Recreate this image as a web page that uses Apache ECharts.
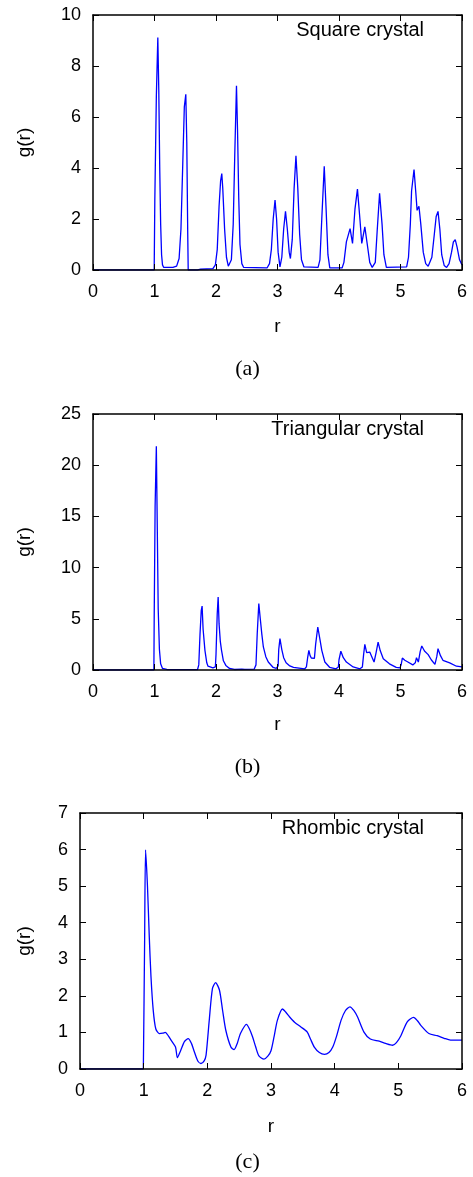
<!DOCTYPE html>
<html>
<head>
<meta charset="utf-8">
<title>g(r) for three crystals</title>
<script src="https://cdn.jsdelivr.net/npm/echarts@6/dist/echarts.min.js"></script>
<style>
  html, body { margin: 0; padding: 0; background: #fff; }
  #chart { width: 473px; height: 1177px; }
</style>
</head>
<body>
<div id="chart"></div>
<script>
// --- values, [r, g(r)] ---
const squareData = [
  [0, 0], [0.995, 0], [1.0, 0], [1.005, 2.7], [1.03, 6.8], [1.054, 9.12], [1.07, 7.0], [1.085, 4.0],
  [1.1, 1.8], [1.115, 0.6], [1.13, 0.2], [1.15, 0.1], [1.3, 0.1], [1.36, 0.15], [1.4, 0.45],
  [1.43, 1.6], [1.46, 4.2], [1.485, 6.4], [1.509, 6.89], [1.525, 5.0], [1.54, 1.5], [1.548, 0],
  [1.7, 0], [1.75, 0.03], [1.95, 0.05], [1.99, 0.2], [2.02, 0.8], [2.05, 2.5], [2.075, 3.5],
  [2.094, 3.78], [2.11, 3.2], [2.14, 1.6], [2.17, 0.5], [2.2, 0.15], [2.22, 0.12], [2.25, 0.4],
  [2.28, 1.8], [2.305, 4.5], [2.333, 7.22], [2.35, 5.5], [2.37, 2.8], [2.39, 1.0], [2.42, 0.25],
  [2.45, 0.1], [2.83, 0.08], [2.87, 0.25], [2.9, 0.8], [2.93, 2.0], [2.96, 2.74], [2.985, 2.0],
  [3.01, 0.7], [3.04, 0.12], [3.07, 0.5], [3.1, 1.6], [3.13, 2.3], [3.16, 1.6], [3.19, 0.7],
  [3.21, 0.45], [3.24, 1.2], [3.27, 3.2], [3.3, 4.48], [3.33, 3.2], [3.36, 1.4], [3.39, 0.4],
  [3.43, 0.12], [3.66, 0.1], [3.69, 0.4], [3.72, 2.0], [3.76, 4.07], [3.79, 2.4], [3.82, 0.6],
  [3.85, 0.08], [4.05, 0.08], [4.08, 0.3], [4.12, 1.1], [4.18, 1.62], [4.22, 1.04], [4.26, 2.4],
  [4.3, 3.17], [4.34, 2.0], [4.37, 1.04], [4.42, 1.69], [4.46, 1.0], [4.5, 0.3], [4.54, 0.1],
  [4.59, 0.3], [4.62, 1.5], [4.66, 3.01], [4.7, 1.8], [4.73, 0.6], [4.77, 0.1], [5.1, 0.12],
  [5.13, 0.5], [5.16, 1.8], [5.18, 3.1], [5.22, 3.94], [5.25, 3.0], [5.27, 2.34], [5.3, 2.5],
  [5.33, 1.8], [5.37, 0.7], [5.41, 0.25], [5.45, 0.15], [5.47, 0.2], [5.51, 0.5], [5.55, 1.4],
  [5.58, 2.1], [5.61, 2.3], [5.64, 1.6], [5.67, 0.6], [5.71, 0.18], [5.75, 0.1], [5.79, 0.25],
  [5.83, 0.7], [5.86, 1.1], [5.89, 1.19], [5.92, 0.9], [5.96, 0.4], [6.0, 0.2]
];

const triangularData = [
  [0, 0], [0.99, 0], [0.995, 5], [1.01, 16], [1.03, 21.85], [1.045, 14], [1.06, 6], [1.08, 2],
  [1.1, 0.6], [1.13, 0.15], [1.2, 0.05], [1.45, 0.03], [1.47, 0.08], [1.5, 0.03], [1.7, 0.05],
  [1.72, 0.5], [1.74, 3.5], [1.76, 5.8], [1.774, 6.25], [1.79, 4.0], [1.82, 1.92], [1.85, 0.7],
  [1.87, 0.37], [1.95, 0.2], [1.99, 0.3], [2.0, 1.5], [2.02, 5.5], [2.035, 7.13], [2.05, 4.5],
  [2.07, 2.8], [2.09, 1.92], [2.12, 0.9], [2.16, 0.45], [2.22, 0.15], [2.3, 0.05], [2.42, 0.08],
  [2.44, 0.12], [2.47, 0.06], [2.62, 0.08], [2.65, 0.5], [2.67, 3.5], [2.696, 6.48], [2.72, 5.0],
  [2.745, 3.5], [2.77, 2.25], [2.81, 1.3], [2.85, 0.78], [2.93, 0.25], [2.98, 0.15], [3.01, 0.4],
  [3.02, 2.0], [3.04, 3.06], [3.07, 2.0], [3.1, 1.2], [3.14, 0.7], [3.2, 0.4], [3.26, 0.25],
  [3.44, 0.1], [3.47, 0.3], [3.49, 1.2], [3.51, 1.92], [3.53, 1.4], [3.55, 1.17], [3.6, 1.14],
  [3.62, 2.5], [3.655, 4.2], [3.69, 3.0], [3.72, 1.92], [3.77, 0.78], [3.85, 0.25], [3.95, 0.12],
  [3.99, 0.3], [4.0, 1.0], [4.03, 1.83], [4.07, 1.2], [4.12, 0.78], [4.23, 0.3], [4.34, 0.12],
  [4.38, 0.3], [4.4, 1.5], [4.42, 2.5], [4.45, 1.7], [4.5, 1.75], [4.54, 1.2], [4.57, 0.78],
  [4.6, 1.6], [4.636, 2.73], [4.67, 1.9], [4.72, 1.1], [4.82, 0.6], [4.93, 0.25], [4.99, 0.2],
  [5.01, 0.5], [5.03, 1.17], [5.07, 0.95], [5.12, 0.78], [5.2, 0.5], [5.24, 0.7], [5.26, 1.2],
  [5.29, 0.78], [5.32, 1.8], [5.346, 2.35], [5.39, 1.86], [5.45, 1.5], [5.5, 1.0], [5.56, 0.55],
  [5.59, 1.3], [5.61, 2.08], [5.65, 1.4], [5.69, 0.95], [5.8, 0.7], [5.91, 0.37], [6.0, 0.3]
];

const rhombicData = [
  [0, 0], [0.995, 0], [1.0, 0], [1.015, 3.5], [1.03, 5.99], [1.06, 4.99], [1.088, 3.62],
  [1.115, 2.52], [1.15, 1.61], [1.19, 1.1], [1.245, 0.97], [1.3, 0.98], [1.34, 1.0], [1.39, 0.9],
  [1.43, 0.79], [1.5, 0.6], [1.53, 0.31], [1.58, 0.5], [1.64, 0.75], [1.7, 0.83], [1.75, 0.7],
  [1.79, 0.5], [1.85, 0.22], [1.9, 0.15], [1.95, 0.22], [1.98, 0.38], [2.03, 1.33], [2.08, 2.2],
  [2.13, 2.36], [2.19, 2.16], [2.24, 1.6], [2.29, 1.06], [2.37, 0.6], [2.42, 0.53], [2.47, 0.7],
  [2.52, 0.97], [2.615, 1.22], [2.66, 1.1], [2.71, 0.88], [2.76, 0.6], [2.81, 0.36], [2.89, 0.27],
  [2.95, 0.35], [3.0, 0.5], [3.05, 0.9], [3.1, 1.33], [3.18, 1.64], [3.23, 1.56], [3.29, 1.43],
  [3.37, 1.28], [3.47, 1.15], [3.57, 1.01], [3.62, 0.82], [3.68, 0.6], [3.76, 0.45], [3.84, 0.4],
  [3.91, 0.45], [3.97, 0.6], [4.03, 0.9], [4.1, 1.33], [4.17, 1.6], [4.24, 1.7], [4.3, 1.6],
  [4.36, 1.42], [4.46, 1.01], [4.56, 0.82], [4.7, 0.76], [4.8, 0.7], [4.91, 0.65], [4.97, 0.72],
  [5.04, 0.91], [5.14, 1.29], [5.24, 1.41], [5.3, 1.32], [5.35, 1.2], [5.48, 0.97], [5.61, 0.91],
  [5.72, 0.84], [5.82, 0.79], [6.0, 0.79]
];

const panelTitles = ['Square crystal', 'Triangular crystal', 'Rhombic crystal'];
const panelCaptions = ['(a)', '(b)', '(c)'];
const xRange = [0, 6, 1];          // min, max, step for r
const yMax = [10, 25, 7];
const yStep = [2, 5, 1];
const xName = 'r';
const yName = 'g(r)';

// --- layout (pixels) ---
const grids = [
  { left: 93, top: 15, width: 369, height: 255 },
  { left: 93, top: 414, width: 369, height: 256 },
  { left: 80, top: 813, width: 382, height: 256 }
];
const titleTops = [20, 419, 818];
const captionYs = [369, 767, 1162];
const xNameGaps = [47, 45, 48];
const yNameGaps = [59, 59, 46];

const SANS = '"Liberation Sans", Arial, sans-serif';
const SERIF = '"Liberation Serif", "Times New Roman", serif';
const frameLine = { color: '#000', width: 1.5 };

const chart = echarts.init(document.getElementById('chart'), null, { renderer: 'canvas' });

const seriesData = [squareData, triangularData, rhombicData];
const xAxes = [];
const yAxes = [];
const series = [];

grids.forEach((g, i) => {
  const common = {
    gridIndex: i,
    type: 'value',
    z: 10,
    splitLine: { show: false },
    axisLine: { show: true, onZero: false, lineStyle: frameLine },
    axisTick: { show: true, inside: true, length: 6, lineStyle: { color: '#000', width: 1 } }
  };
  const xCommon = Object.assign({}, common, { min: xRange[0], max: xRange[1], interval: xRange[2] });
  const yCommon = Object.assign({}, common, { min: 0, max: yMax[i], interval: yStep[i] });

  xAxes.push(Object.assign({}, xCommon, {
    position: 'bottom',
    axisLabel: { margin: 13, color: '#000', fontSize: 18, fontFamily: SANS },
    name: xName,
    nameLocation: 'middle',
    nameGap: xNameGaps[i],
    nameTextStyle: { color: '#000', fontSize: 19, fontFamily: SANS }
  }));
  xAxes.push(Object.assign({}, xCommon, { position: 'top', axisLabel: { show: false } }));

  yAxes.push(Object.assign({}, yCommon, {
    position: 'left',
    axisLabel: { margin: 12, color: '#000', fontSize: 18, fontFamily: SANS },
    name: yName,
    nameLocation: 'middle',
    nameGap: yNameGaps[i],
    nameTextStyle: { color: '#000', fontSize: 19, fontFamily: SANS }
  }));
  yAxes.push(Object.assign({}, yCommon, { position: 'right', axisLabel: { show: false } }));

  series.push({
    type: 'line',
    name: panelTitles[i],
    xAxisIndex: i * 2,
    yAxisIndex: i * 2,
    data: seriesData[i],
    showSymbol: false,
    smooth: i === 2 ? 0.25 : false,
    lineStyle: { color: '#0000ff', width: 1.3 },
    itemStyle: { color: '#0000ff' }
  });
});

const option = {
  animation: false,
  backgroundColor: '#fff',
  title: panelTitles.map((t, i) => ({
    text: t,
    right: 49,
    top: titleTops[i],
    padding: 0,
    textStyle: { color: '#000', fontSize: 20, fontWeight: 'normal', fontFamily: SANS }
  })),
  grid: grids,
  xAxis: xAxes,
  yAxis: yAxes,
  series: series,
  graphic: panelCaptions.map((c, i) => ({
    type: 'text',
    x: 247.5,
    y: captionYs[i],
    style: {
      text: c,
      fill: '#000',
      font: '22px ' + SERIF,
      textAlign: 'center',
      textVerticalAlign: 'middle'
    }
  }))
};

chart.setOption(option);
</script>
</body>
</html>
